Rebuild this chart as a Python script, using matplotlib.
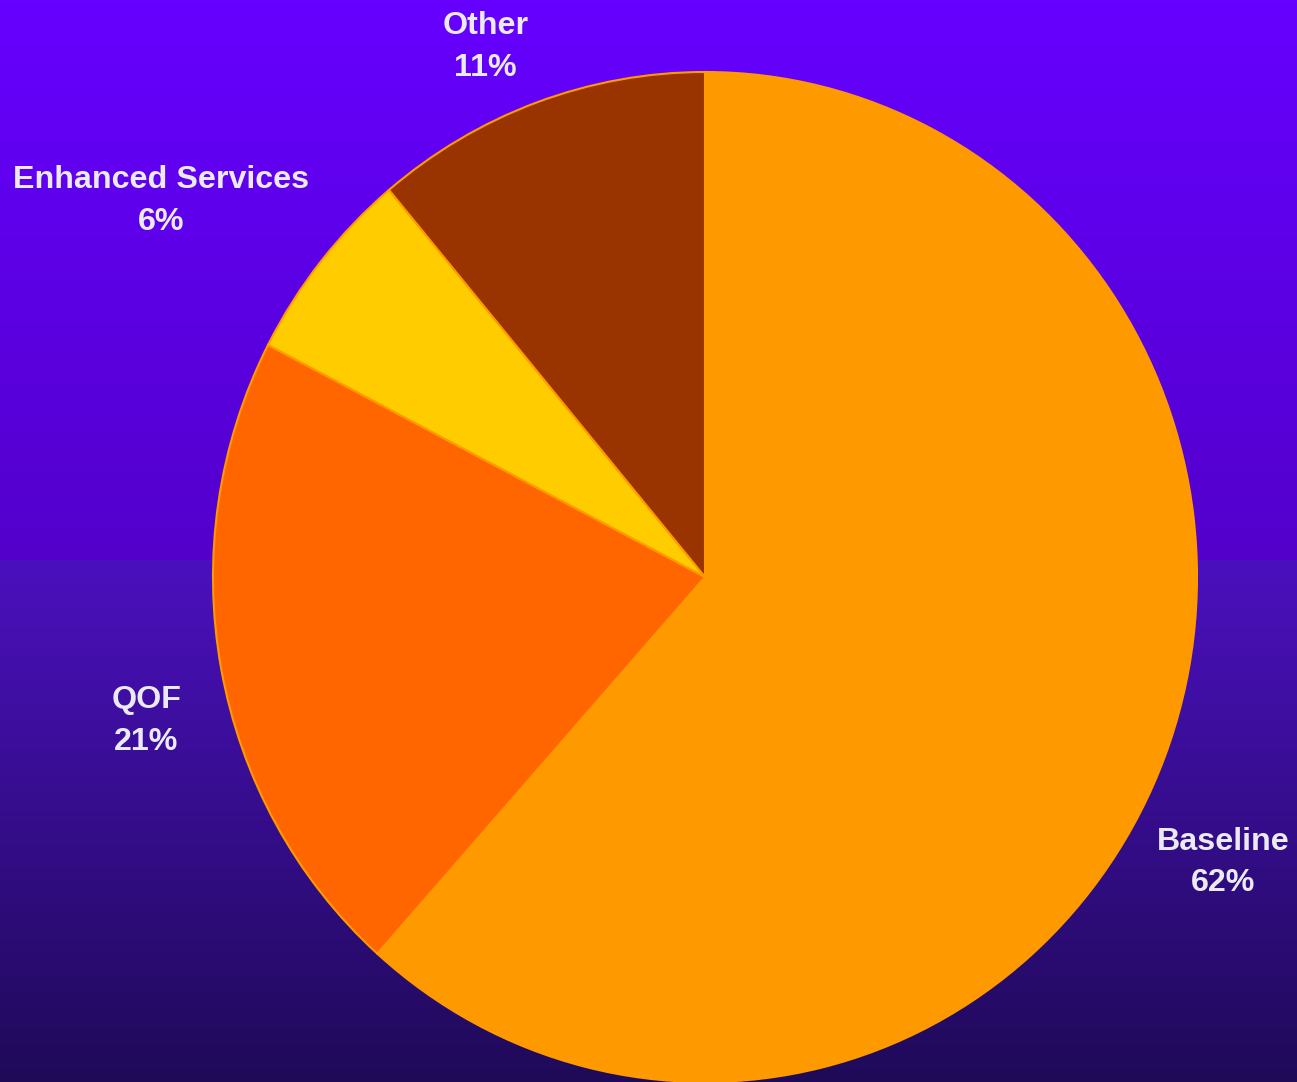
import matplotlib
matplotlib.use("Agg")
import matplotlib.pyplot as plt
import numpy as np
from matplotlib.colors import LinearSegmentedColormap

labels = ["Baseline", "QOF", "Enhanced Services", "Other"]
shares = [61.6, 21.0, 6.3, 11.1]
colors = ["#ff9900", "#ff6600", "#ffcc00", "#993300"]
# label centres in pie units (radius = 1)
label_pos = [(1.053, -0.565), (-1.136, -0.285), (-1.106, 0.745), (-0.446, 1.05)]

W, H = 1297, 1082
fig = plt.figure(figsize=(W / 100, H / 100), dpi=100)

# background: two-stage vertical gradient
bg = fig.add_axes([0, 0, 1, 1])
bg.axis("off")
split = 560 / H
top_cmap = LinearSegmentedColormap.from_list("t", ["#6600ff", "#5300cb"])
bot_cmap = LinearSegmentedColormap.from_list("b", ["#4b10be", "#1f0a58"])
rows = np.linspace(0, 1, H)
img = np.zeros((H, 1, 4))
for i, r in enumerate(rows):
    if r < split:
        img[i, 0] = top_cmap(r / split)
    else:
        img[i, 0] = bot_cmap((r - split) / (1 - split))
bg.imshow(img, aspect="auto", extent=[0, 1, 1, 0])
bg.set_xlim(0, 1)
bg.set_ylim(1, 0)

# pie
cx, cy, rx, ry = 705, 577, 492, 505
ax = fig.add_axes([(cx - rx) / W, (H - cy - ry) / H, 2 * rx / W, 2 * ry / H])
ax.pie(shares, colors=colors, startangle=90, counterclock=False,
       wedgeprops=dict(edgecolor="#ff9900", linewidth=1.5))
ax.set_aspect("auto")
ax.set_xlim(-1, 1)
ax.set_ylim(-1, 1)
ax.axis("off")

for lab, s, (x, y) in zip(labels, shares, label_pos):
    ax.text(x, y, f"{lab}\n{round(s)}%", ha="center", va="center", color="#ebe9f2",
            fontsize=23.2, fontweight="bold", family="Liberation Sans",
            linespacing=1.5, clip_on=False)

fig.savefig("out.png", dpi=100)
